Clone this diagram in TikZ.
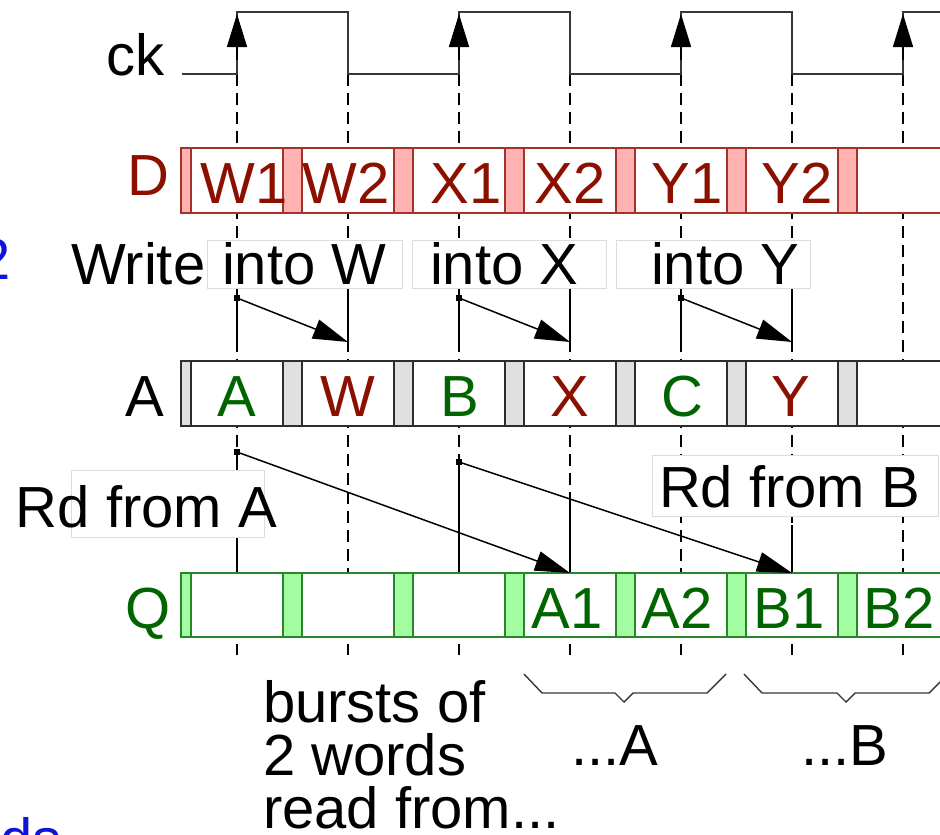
\documentclass[tikz,border=0pt]{standalone}
\usepackage{fontspec}
\setmainfont{Liberation Sans}
\usetikzlibrary{arrows.meta}
\definecolor{dred}{RGB}{139,16,0}
\definecolor{pinkfill}{RGB}{255,178,178}
\definecolor{pinkline}{RGB}{165,50,42}
\definecolor{grayfill}{RGB}{224,224,224}
\definecolor{rowgray}{RGB}{45,45,45}
\definecolor{dgreen}{RGB}{0,100,0}
\definecolor{greenfill}{RGB}{162,252,162}
\definecolor{greenline}{RGB}{40,135,40}
\definecolor{boxgray}{RGB}{220,220,220}
\definecolor{linkblue}{RGB}{15,20,220}
\definecolor{clk}{RGB}{55,55,55}
\tikzset{
  txt/.style={anchor=base, inner sep=0pt, outer sep=0pt},
  txtw/.style={anchor=base west, inner sep=0pt, outer sep=0pt},
  dashline/.style={line width=1.3pt, dash pattern=on 12pt off 7pt, black},
  solidline/.style={line width=1.3pt, black},
  arr/.style={line width=1.5pt, -{Triangle[length=35pt,width=20pt]}},
  sq/.style={rectangle, fill=black, minimum size=6pt, inner sep=0pt},
  lblbox/.style={draw=boxgray, line width=1pt, fill=white},
  bracestyle/.style={line width=1.4pt, clk}
}
\begin{document}
\begin{tikzpicture}[x=1pt,y=-1pt,font=\fontsize{58}{53}\selectfont]
\useasboundingbox (0,0) rectangle (940,835);
\clip (0,0) rectangle (940,835);

% dashed timing lines
\foreach \x in {237,348,459,570,681,792,903}
  \draw[dashline] (\x,74) -- (\x,655);

% solid segments under arrows
\foreach \x in {237,459,681} \draw[solidline] (\x,298) -- (\x,342);
\foreach \x in {348,570,792} \draw[solidline] (\x,290) -- (\x,342);
\draw[solidline] (237,452) -- (237,573);
\draw[solidline] (459,462) -- (459,573);
\draw[solidline] (570,500) -- (570,573);
\draw[solidline] (792,525) -- (792,573);

% clock
\draw[clk, line width=1.5pt] (182,74) -- (237,74) -- (237,12) -- (348,12) -- (348,74)
  -- (459,74) -- (459,12) -- (570,12) -- (570,74) -- (681,74) -- (681,12)
  -- (792,12) -- (792,74) -- (903,74) -- (903,12) -- (950,12);
\foreach \x in {237,459,681,903}
  \draw[line width=1.5pt, -{Triangle[length=33pt,width=20pt]}] (\x,60) -- (\x,14);

% rows
\foreach \t/\b/\fc/\lc in {148/213/pinkfill/pinkline, 361/426/grayfill/rowgray, 573/637/greenfill/greenline} {
  \draw[\lc, fill=white, line width=1.5pt] (181,\t) rectangle (960,\b);
  \draw[\lc, fill=\fc, line width=1.2pt] (181,\t) rectangle (191,\b);
  \foreach \k in {0,...,5}
    \draw[\lc, fill=\fc, line width=1.2pt] ({283+111*\k},\t) rectangle ({302+111*\k},\b);
}

% row labels
\node[txtw] (ck) at (106,75) {ck};
\node[txt, dred] (dlab) at (148,195) {D};
\node[txt] (alab) at (145,416) {A};
\node[txt, dgreen] (qlab) at (148,628) {Q};

% D row text
\node[txt, dred] (w1) at (244,203) {W1};
\node[txt, dred] (w2) at (346,203) {W2};
\node[txt, dred] (x1) at (466,203) {X1};
\node[txt, dred] (x2) at (570,203) {X2};
\node[txt, dred] (y1) at (687,203) {Y1};
\node[txt, dred] (y2) at (797,203) {Y2};

% A row text
\node[txt, dgreen] (aa) at (237,416) {A};
\node[txt, dred] (aw) at (348,416) {W};
\node[txt, dgreen] (ab) at (460,416) {B};
\node[txt, dred] (ax) at (570,416) {X};
\node[txt, dgreen] (ac) at (682,416) {C};
\node[txt, dred] (ay) at (791,416) {Y};

% Q row text
\node[txt, dgreen] (qa1) at (567,628) {A1};
\node[txt, dgreen] (qa2) at (677,628) {A2};
\node[txt, dgreen] (qb1) at (789,628) {B1};
\node[txt, dgreen] (qb2) at (899,628) {B2};

% write labels
\draw[lblbox] (207,240) rectangle (402,288);
\draw[lblbox] (412,240) rectangle (606,288);
\draw[lblbox] (616,240) rectangle (810,288);
\node[txtw] (wr) at (71,284) {Write};
\node[txtw] (iw) at (222,284) {into W};
\node[txtw] (ix) at (430,284) {into X};
\node[txtw] (iy) at (651,284) {into Y};

% write arrows
\node[sq] (ws1) at (237,298) {};
\node[sq] (ws2) at (459,298) {};
\node[sq] (ws3) at (681,298) {};
\coordinate (we1) at (348,342);
\coordinate (we2) at (570,342);
\coordinate (we3) at (792,342);
\draw[arr] (ws1.center) -- (we1);
\draw[arr] (ws2.center) -- (we2);
\draw[arr] (ws3.center) -- (we3);

% read labels
\draw[lblbox] (71,470) rectangle (264,537);
\draw[lblbox] (652,455) rectangle (938,516);
\node[txtw] (rda) at (16,527) {Rd from A};
\node[txtw] (rdb) at (659,507) {Rd from B};

% read arrows
\node[sq] (rs1) at (237,452) {};
\node[sq] (rs2) at (459,462) {};
\coordinate (re1) at (570,573);
\coordinate (re2) at (792,573);
\draw[arr] (rs1.center) -- (re1);
\draw[arr] (rs2.center) -- (re2);

% braces
\draw[bracestyle] (524,674) -- (542,693) -- (615,693) -- (624,702) -- (633,693) -- (707,693) -- (726,674);
\draw[bracestyle] (744,674) -- (762,693) -- (837,693) -- (846,702) -- (855,693) -- (929,693) -- (948,674);

% bottom texts
\node[txtw] (b1) at (263,722) {bursts of};
\node[txtw] (b2) at (263,775) {2 words};
\node[txtw] (b3) at (263,828) {read from...};
\node[txtw] (ra) at (571,765) {...A};
\node[txtw] (rb) at (801,765) {...B};

% cropped fragments at left edge
\node[txt, anchor=base east, linkblue] (frag1) at (11,279) {2};
\node[txt, anchor=base east, linkblue] (frag2) at (62,859) {words};
\end{tikzpicture}
\end{document}
